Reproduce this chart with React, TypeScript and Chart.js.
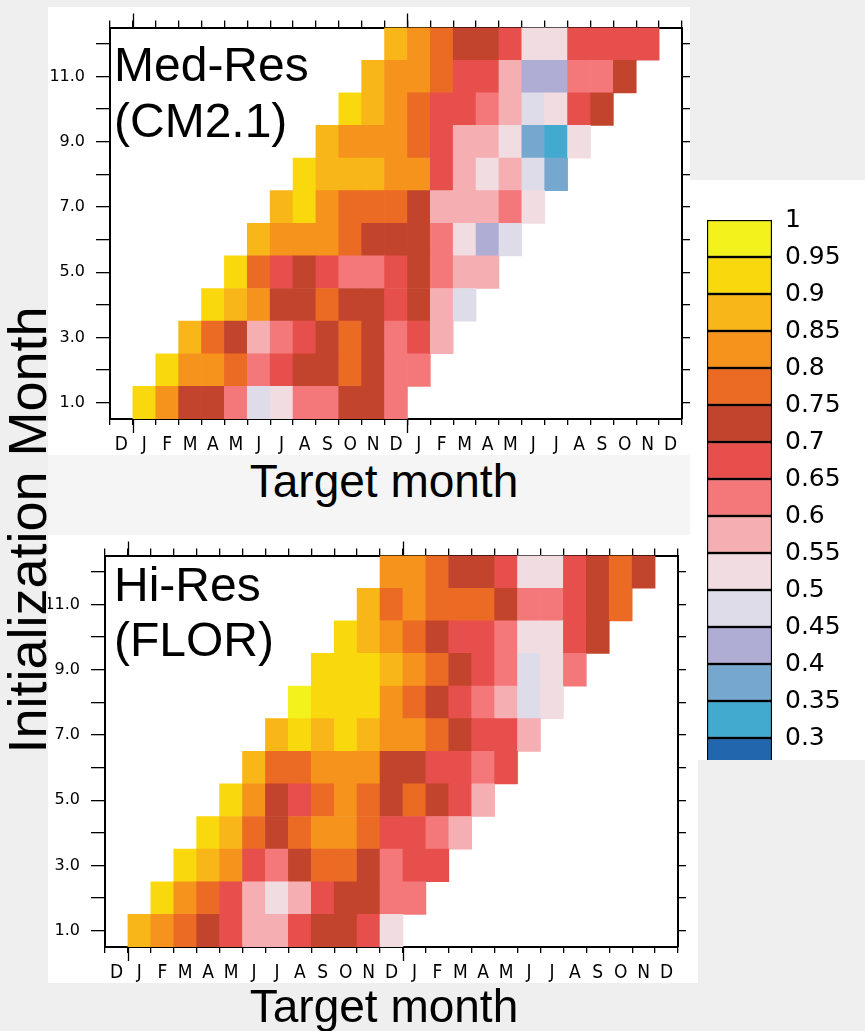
import React, { useEffect, useRef } from 'react';
import { Chart, registerables } from 'chart.js';

Chart.register(...registerables);

// ---------------- data ----------------
const targetMonths = ['D', 'J', 'F', 'M', 'A', 'M', 'J', 'J', 'A', 'S', 'O', 'N', 'D', 'J', 'F', 'M', 'A', 'M', 'J', 'J', 'A', 'S', 'O', 'N', 'D'];
const initMonths = [1, 2, 3, 4, 5, 6, 7, 8, 9, 10, 11, 12];
const initTickLabels = ['1.0', '', '3.0', '', '5.0', '', '7.0', '', '9.0', '', '11.0', ''];

const levels = [1, 0.95, 0.9, 0.85, 0.8, 0.75, 0.7, 0.65, 0.6, 0.55, 0.5, 0.45, 0.4, 0.35, 0.3, 0.25];
const levelLabels = ['1', '0.95', '0.9', '0.85', '0.8', '0.75', '0.7', '0.65', '0.6', '0.55', '0.5', '0.45', '0.4', '0.35', '0.3', '0.25'];
const levelColors = [
  '#f4f21c', '#f9d90e', '#f9b618', '#f5931d', '#ec6b24', '#c3442c', '#e74f4d', '#f4787a',
  '#f5aeb1', '#f1dce1', '#dfdcea', '#afadd3', '#76a7cf', '#42aace', '#2167ad',
];

// skill (anomaly correlation) per initialization month (rows) by lead 0..11
const medResSkill: number[][] = [
  [0.92, 0.82, 0.72, 0.72, 0.62, 0.47, 0.52, 0.62, 0.62, 0.72, 0.72, 0.62],
  [0.92, 0.82, 0.82, 0.77, 0.62, 0.67, 0.72, 0.72, 0.77, 0.72, 0.62, 0.62],
  [0.87, 0.77, 0.72, 0.57, 0.62, 0.67, 0.72, 0.77, 0.72, 0.62, 0.67, 0.57],
  [0.92, 0.87, 0.82, 0.72, 0.72, 0.77, 0.72, 0.72, 0.67, 0.72, 0.57, 0.47],
  [0.92, 0.77, 0.67, 0.72, 0.67, 0.62, 0.62, 0.67, 0.72, 0.62, 0.57, 0.57],
  [0.87, 0.82, 0.82, 0.82, 0.77, 0.72, 0.72, 0.72, 0.62, 0.52, 0.42, 0.47],
  [0.87, 0.92, 0.82, 0.77, 0.77, 0.77, 0.72, 0.57, 0.57, 0.57, 0.62, 0.52],
  [0.92, 0.87, 0.87, 0.87, 0.82, 0.82, 0.67, 0.57, 0.52, 0.57, 0.47, 0.37],
  [0.87, 0.82, 0.82, 0.82, 0.77, 0.67, 0.57, 0.57, 0.52, 0.37, 0.32, 0.52],
  [0.92, 0.87, 0.82, 0.77, 0.67, 0.67, 0.62, 0.57, 0.47, 0.52, 0.67, 0.72],
  [0.87, 0.82, 0.82, 0.77, 0.67, 0.67, 0.57, 0.42, 0.42, 0.62, 0.62, 0.72],
  [0.87, 0.82, 0.77, 0.72, 0.72, 0.67, 0.52, 0.52, 0.67, 0.67, 0.67, 0.67],
];

const hiResSkill: number[][] = [
  [0.87, 0.82, 0.77, 0.72, 0.67, 0.57, 0.57, 0.67, 0.72, 0.72, 0.67, 0.52],
  [0.92, 0.82, 0.77, 0.67, 0.57, 0.52, 0.57, 0.67, 0.72, 0.72, 0.62, 0.62],
  [0.92, 0.87, 0.82, 0.67, 0.62, 0.72, 0.77, 0.77, 0.72, 0.62, 0.67, 0.67],
  [0.92, 0.87, 0.77, 0.72, 0.77, 0.82, 0.82, 0.77, 0.67, 0.67, 0.62, 0.57],
  [0.92, 0.82, 0.72, 0.67, 0.77, 0.82, 0.77, 0.72, 0.77, 0.72, 0.67, 0.57],
  [0.87, 0.77, 0.77, 0.82, 0.82, 0.82, 0.72, 0.72, 0.67, 0.67, 0.62, 0.67],
  [0.87, 0.92, 0.87, 0.92, 0.87, 0.82, 0.82, 0.77, 0.72, 0.67, 0.67, 0.57],
  [0.97, 0.92, 0.92, 0.92, 0.82, 0.77, 0.72, 0.67, 0.62, 0.57, 0.47, 0.52],
  [0.92, 0.92, 0.92, 0.87, 0.82, 0.77, 0.72, 0.67, 0.62, 0.47, 0.52, 0.62],
  [0.92, 0.87, 0.82, 0.77, 0.72, 0.67, 0.67, 0.62, 0.52, 0.52, 0.67, 0.72],
  [0.87, 0.77, 0.82, 0.77, 0.77, 0.77, 0.72, 0.62, 0.62, 0.67, 0.72, 0.77],
  [0.82, 0.82, 0.77, 0.72, 0.72, 0.67, 0.52, 0.52, 0.67, 0.72, 0.77, 0.72],
];

// ---------------- helpers ----------------
const TICK_FONT = "'Liberation Sans Narrow', 'DejaVu Sans Condensed', 'Liberation Sans', sans-serif";
const NUM_FONT = "'DejaVu Sans', sans-serif";
const BIG_FONT = "'Liberation Sans', Arial, sans-serif";

function colorFor(v: number): string {
  for (let i = 0; i < levelColors.length; i++) {
    if (v <= levels[i] && v > levels[i + 1]) return levelColors[i];
  }
  return 'rgba(0,0,0,0)';
}

const yearStartIdx = targetMonths
  .map((m, i) => (i > 0 && m === 'J' && targetMonths[i - 1] === 'D' ? i : -1))
  .filter((i) => i > 0);

const longTicks = {
  id: 'longTicks',
  afterDraw(chart: any) {
    const { ctx, chartArea } = chart;
    const xs = chart.scales.x;
    ctx.save();
    ctx.strokeStyle = '#000';
    ctx.lineWidth = 1.3;
    ctx.beginPath();
    yearStartIdx.forEach((i) => {
      const px = Math.round((xs.getPixelForValue(i - 1) + xs.getPixelForValue(i)) / 2) + 0.5;
      ctx.moveTo(px, chartArea.bottom);
      ctx.lineTo(px, chartArea.bottom + 14);
      ctx.moveTo(px, chartArea.top);
      ctx.lineTo(px, chartArea.top - 14);
    });
    ctx.stroke();
    ctx.restore();
  },
};

type Box = { x: number; y: number; w: number; h: number; left: number; right: number; top: number; bottom: number };

function buildHeatmapConfig(skill: number[][], box: Box): any {
  const datasets = initMonths.map((m, r) => {
    const data: any[] = targetMonths.map(() => null);
    const colors: string[] = targetMonths.map(() => 'rgba(0,0,0,0)');
    skill[r].forEach((v, lead) => {
      const c = m + lead;
      data[c] = [m - 0.5, m + 0.5];
      colors[c] = colorFor(v);
    });
    return {
      label: 'Init ' + m,
      data,
      backgroundColor: colors,
      borderWidth: 0,
      categoryPercentage: 1,
      barPercentage: 1,
      grouped: false,
    };
  });

  const grid = { drawOnChartArea: false, drawTicks: true, color: '#000', tickColor: '#000', lineWidth: 1.3 };
  const border = { display: true, color: '#000', width: 2 };
  const intTicks = (s: any) => {
    s.ticks = initMonths.map((v) => ({ value: v }));
  };

  return {
    type: 'bar',
    data: { labels: targetMonths, datasets },
    plugins: [longTicks],
    options: {
      responsive: false,
      maintainAspectRatio: false,
      animation: false,
      devicePixelRatio: 1,
      layout: { padding: 0 },
      plugins: { legend: { display: false }, tooltip: { enabled: false }, title: { display: false } },
      scales: {
        x: {
          type: 'category',
          position: 'bottom',
          offset: true,
          grid: { ...grid, offset: true, tickLength: 6 },
          border,
          ticks: { color: '#000', font: { family: TICK_FONT, size: 19 }, padding: 9, autoSkip: false, maxRotation: 0 },
          afterFit: (s: any) => { s.height = box.bottom; },
        },
        xTop: {
          type: 'category',
          position: 'top',
          labels: targetMonths,
          offset: true,
          grid: { ...grid, offset: true, tickLength: 7 },
          border,
          ticks: { display: false },
          afterFit: (s: any) => { s.height = box.top; },
        },
        y: {
          type: 'linear',
          position: 'left',
          min: 0.5,
          max: 12.5,
          afterBuildTicks: intTicks,
          grid: { ...grid, tickLength: 14 },
          border,
          ticks: {
            color: '#000',
            font: { family: NUM_FONT, size: 16 },
            padding: 11,
            autoSkip: false,
            callback: (v: number) => initTickLabels[initMonths.indexOf(v)] ?? '',
          },
          afterFit: (s: any) => { s.width = box.left; },
        },
        yRight: {
          type: 'linear',
          position: 'right',
          min: 0.5,
          max: 12.5,
          afterBuildTicks: intTicks,
          grid: { ...grid, tickLength: 8 },
          border,
          ticks: { display: false },
          afterFit: (s: any) => { s.width = box.right; },
        },
      },
    },
  };
}

function Heatmap({ skill, box }: { skill: number[][]; box: Box }) {
  const ref = useRef<HTMLCanvasElement>(null);
  useEffect(() => {
    const chart = new Chart(ref.current as HTMLCanvasElement, buildHeatmapConfig(skill, box));
    return () => chart.destroy();
  }, []);
  return (
    <div style={{ position: 'absolute', left: box.x, top: box.y, width: box.w, height: box.h, background: '#fff' }}>
      <canvas ref={ref} width={box.w} height={box.h} style={{ display: 'block' }} />
    </div>
  );
}

function ColorBar() {
  const ref = useRef<HTMLCanvasElement>(null);
  useEffect(() => {
    const datasets = levelColors.map((c, i) => ({
      label: levelLabels[i],
      data: [[levels[i + 1], levels[i]]],
      backgroundColor: c,
      borderColor: '#000',
      borderWidth: 1.5,
      borderSkipped: false,
      grouped: false,
      categoryPercentage: 1,
      barPercentage: 1,
    }));
    const chart = new Chart(ref.current as HTMLCanvasElement, {
      type: 'bar',
      data: { labels: [''], datasets },
      options: {
        responsive: false,
        maintainAspectRatio: false,
        animation: false,
        devicePixelRatio: 1,
        layout: { padding: { top: 40, left: 17, bottom: 45, right: 0 } },
        plugins: { legend: { display: false }, tooltip: { enabled: false } },
        scales: {
          x: { display: false, offset: true },
          y: {
            type: 'linear',
            position: 'right',
            min: 0.25,
            max: 1,
            afterBuildTicks: (s: any) => { s.ticks = levels.map((v) => ({ value: v })); },
            grid: { display: false },
            border: { display: false },
            ticks: {
              color: '#000',
              font: { family: NUM_FONT, size: 25 },
              padding: 5,
              autoSkip: false,
              callback: (v: number) => levelLabels[levels.indexOf(v)] ?? '',
            },
            afterFit: (s: any) => { s.width = 93; },
          },
        },
      } as any,
    } as any);
    return () => chart.destroy();
  }, []);
  return (
    <div style={{ position: 'absolute', left: 690, top: 180, width: 175, height: 580, background: '#fff', overflow: 'hidden' }}>
      <canvas ref={ref} width={175} height={640} style={{ display: 'block' }} />
    </div>
  );
}

const topBox: Box = { x: 48, y: 7, w: 642, h: 448, left: 62, right: 8, top: 20, bottom: 36 };
const bottomBox: Box = { x: 48, y: 535, w: 650, h: 448, left: 57, right: 20, top: 20, bottom: 36 };

export default function App() {
  const big = { position: 'absolute' as const, fontFamily: BIG_FONT, color: '#000', whiteSpace: 'nowrap' as const };
  return (
    <div style={{ position: 'absolute', left: 0, top: 0, width: 865, height: 1031, background: '#efefef', overflow: 'hidden' }}>
      <div style={{ position: 'absolute', left: 48, top: 455, width: 642, height: 80, background: '#f5f5f5' }} />
      <Heatmap skill={medResSkill} box={topBox} />
      <Heatmap skill={hiResSkill} box={bottomBox} />
      <ColorBar />
      <div style={{ ...big, left: 114, top: 37, fontSize: 48, lineHeight: '56px' }}>
        Med-Res<br />(CM2.1)
      </div>
      <div style={{ ...big, left: 114, top: 557, fontSize: 48, lineHeight: '55px' }}>
        Hi-Res<br />(FLOR)
      </div>
      <div style={{ ...big, left: 184, width: 400, textAlign: 'center', top: 458, fontSize: 46, lineHeight: '46px' }}>
        Target month
      </div>
      <div style={{ ...big, left: 184, width: 400, textAlign: 'center', top: 983, fontSize: 46, lineHeight: '46px' }}>
        Target month
      </div>
      <div
        style={{
          ...big,
          left: 27,
          top: 530,
          width: 600,
          textAlign: 'center',
          fontSize: 54,
          lineHeight: '54px',
          transform: 'translate(-50%, -50%) rotate(-90deg)',
        }}
      >
        Initialization Month
      </div>
    </div>
  );
}
